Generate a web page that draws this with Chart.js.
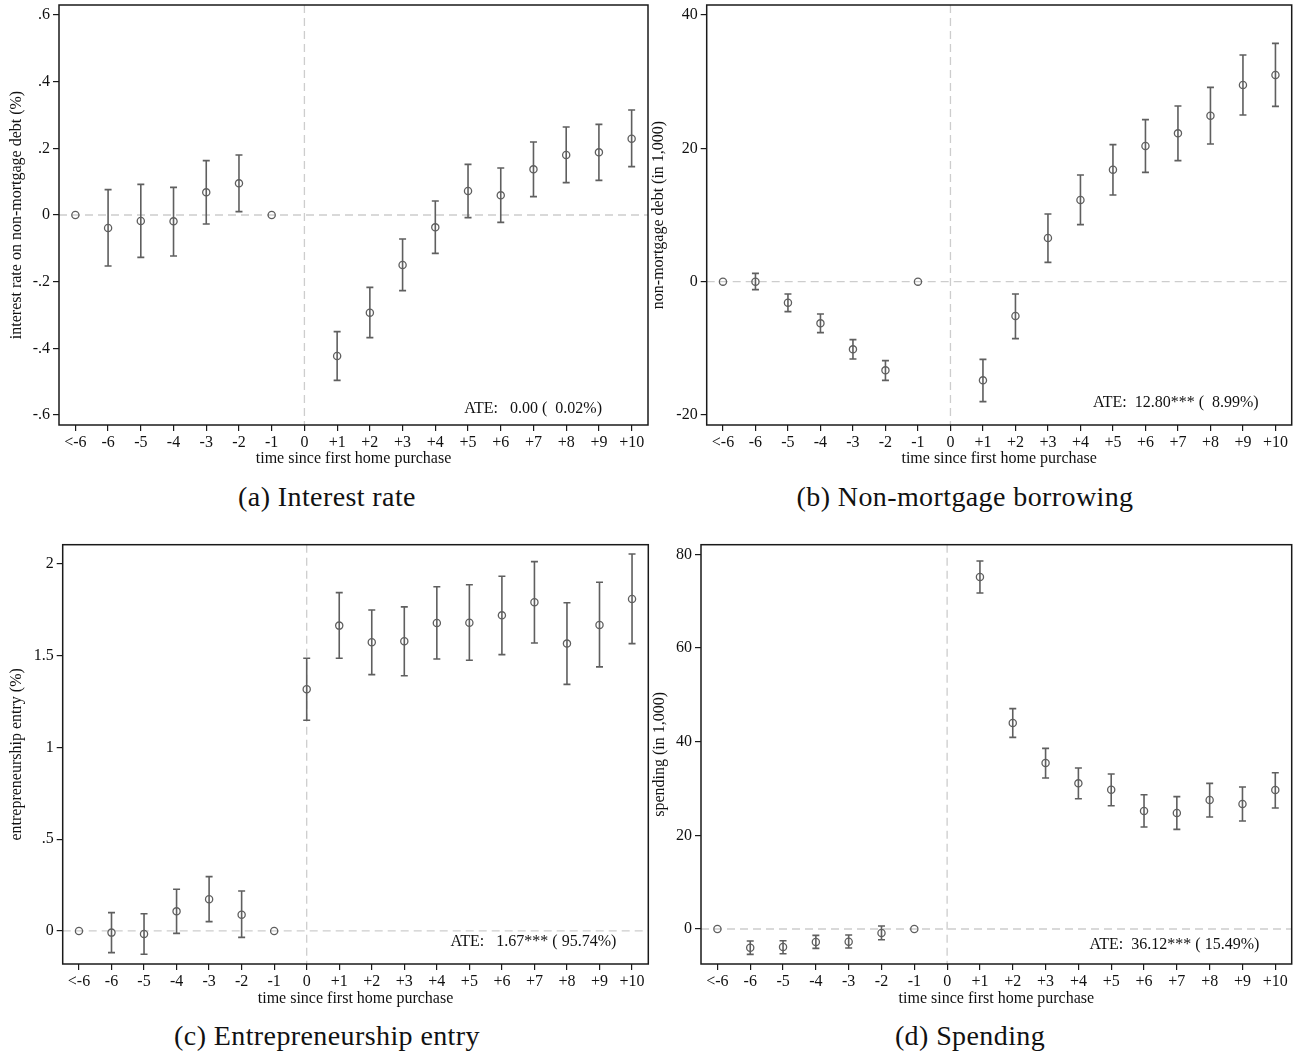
<!DOCTYPE html>
<html>
<head>
<meta charset="utf-8">
<script src="https://cdn.jsdelivr.net/npm/chart.js@4.4.1/dist/chart.umd.min.js"></script>
<style>
  body { margin: 0; background: #fff; }
  #wrap { position: relative; width: 1305px; height: 1055px; background: #fff; }
  canvas { position: absolute; }
  .cap {
    position: absolute; transform: translate(-50%, -50%); white-space: nowrap;
    font-family: "Liberation Serif", serif; font-size: 28px; letter-spacing: 0.4px; color: #111;
  }
</style>
</head>
<body>
<div id="wrap">
  <canvas id="cA" width="652" height="470" style="left:0;top:0"></canvas>
  <canvas id="cB" width="660" height="470" style="left:645px;top:0"></canvas>
  <canvas id="cC" width="652" height="480" style="left:0;top:530px"></canvas>
  <canvas id="cD" width="660" height="480" style="left:645px;top:530px"></canvas>
  <div class="cap" style="left:327px;top:497px">(a) Interest rate</div>
  <div class="cap" style="left:965px;top:497px">(b) Non-mortgage borrowing</div>
  <div class="cap" style="left:327px;top:1036px">(c) Entrepreneurship entry</div>
  <div class="cap" style="left:970px;top:1036px">(d) Spending</div>
</div>
<script>
// ===== DATA =====
const periodX = [-7, -6, -5, -4, -3, -2, -1, 0, 1, 2, 3, 4, 5, 6, 7, 8, 9, 10];
const periodLabels = ['<-6', '-6', '-5', '-4', '-3', '-2', '-1', '0', '+1', '+2', '+3', '+4', '+5', '+6', '+7', '+8', '+9', '+10'];

// (a) interest rate on non-mortgage debt (%)
const rateEst = [0, -0.039, -0.018, -0.019, 0.068, 0.095, 0, null, -0.423, -0.293, -0.150, -0.037, 0.072, 0.059, 0.137, 0.180, 0.188, 0.229];
const rateLo  = [null, -0.153, -0.127, -0.123, -0.027, 0.010, null, null, -0.496, -0.368, -0.227, -0.115, -0.008, -0.022, 0.055, 0.097, 0.104, 0.145];
const rateHi  = [null, 0.076, 0.092, 0.083, 0.163, 0.180, null, null, -0.350, -0.217, -0.072, 0.042, 0.152, 0.141, 0.219, 0.264, 0.272, 0.315];
const rateTicks = [-0.6, -0.4, -0.2, 0, 0.2, 0.4, 0.6];
const rateTickLabels = ['-.6', '-.4', '-.2', '0', '.2', '.4', '.6'];

// (b) non-mortgage debt (in 1,000)
const debtEst = [0, 0, -3.15, -6.25, -10.15, -13.3, 0, null, -14.8, -5.15, 6.55, 12.25, 16.8, 20.35, 22.25, 24.9, 29.5, 31.0];
const debtLo  = [null, -1.2, -4.5, -7.65, -11.6, -14.8, null, null, -18.0, -8.55, 2.9, 8.55, 13.0, 16.4, 18.15, 20.65, 25.0, 26.3];
const debtHi  = [null, 1.25, -1.85, -4.85, -8.7, -11.85, null, null, -11.65, -1.85, 10.15, 16.0, 20.55, 24.3, 26.35, 29.15, 34.0, 35.75];
const debtTicks = [-20, 0, 20, 40];
const debtTickLabels = ['-20', '0', '20', '40'];

// (c) entrepreneurship entry (%)
const entryEst = [0, -0.009, -0.016, 0.107, 0.173, 0.089, 0, 1.317, 1.664, 1.573, 1.579, 1.678, 1.680, 1.720, 1.791, 1.566, 1.668, 1.809];
const entryLo  = [null, -0.118, -0.127, -0.013, 0.051, -0.035, null, 1.148, 1.486, 1.397, 1.391, 1.482, 1.475, 1.506, 1.569, 1.344, 1.439, 1.566];
const entryHi  = [null, 0.100, 0.094, 0.227, 0.296, 0.218, null, 1.486, 1.844, 1.749, 1.766, 1.876, 1.887, 1.933, 2.013, 1.789, 1.900, 2.054];
const entryTicks = [0, 0.5, 1, 1.5, 2];
const entryTickLabels = ['0', '.5', '1', '1.5', '2'];

// (d) spending (in 1,000)
const spendEst = [0, -3.99, -3.84, -2.78, -2.70, -0.85, 0, null, 75.16, 43.99, 35.44, 31.10, 29.75, 25.20, 24.77, 27.54, 26.69, 29.68];
const spendLo  = [null, -5.41, -5.27, -4.13, -4.06, -2.28, null, null, 71.74, 40.93, 32.24, 27.83, 26.33, 21.78, 21.28, 23.91, 23.06, 25.84];
const spendHi  = [null, -2.56, -2.49, -1.35, -1.28, 0.64, null, null, 78.58, 47.05, 38.58, 34.38, 33.10, 28.68, 28.26, 31.10, 30.32, 33.38];
const spendTicks = [0, 20, 40, 60, 80];
const spendTickLabels = ['0', '20', '40', '60', '80'];

// ===== STYLE =====
const INK = '#111';
const MARK = '#5f5f5f';
const REF = '#cdcdcd';
Chart.defaults.font.family = '"Liberation Serif", "Times New Roman", serif';
Chart.defaults.font.size = 16;
Chart.defaults.color = INK;

// error bars, zero lines, frame and ATE note
const extras = {
  id: 'extras',
  beforeDatasetsDraw(chart, args, opts) {
    const {ctx, chartArea: a, scales: {x, y}} = chart;
    ctx.save();
    ctx.strokeStyle = REF;
    ctx.lineWidth = 1.3;
    ctx.setLineDash([8, 5]);
    const y0 = y.getPixelForValue(0);
    ctx.beginPath(); ctx.moveTo(a.left, y0); ctx.lineTo(a.right, y0); ctx.stroke();
    const x0 = x.getPixelForValue(0);
    ctx.beginPath(); ctx.moveTo(x0, a.top); ctx.lineTo(x0, a.bottom); ctx.stroke();
    ctx.setLineDash([]);

    ctx.strokeStyle = MARK;
    ctx.lineWidth = 1.6;
    opts.lo.forEach((lo, i) => {
      const hi = opts.hi[i];
      if (lo === null || hi === null) return;
      const px = x.getPixelForValue(periodX[i]);
      const pl = y.getPixelForValue(lo), ph = y.getPixelForValue(hi);
      ctx.beginPath();
      ctx.moveTo(px, pl); ctx.lineTo(px, ph);
      ctx.moveTo(px - 3.5, pl); ctx.lineTo(px + 3.5, pl);
      ctx.moveTo(px - 3.5, ph); ctx.lineTo(px + 3.5, ph);
      ctx.stroke();
    });
    ctx.restore();
  },
  afterDraw(chart, args, opts) {
    const {ctx, chartArea: a} = chart;
    ctx.save();
    ctx.strokeStyle = '#1a1a1a';
    ctx.lineWidth = 1.5;
    ctx.strokeRect(a.left, a.top, a.right - a.left, a.bottom - a.top);
    ctx.fillStyle = INK;
    ctx.font = '16px "Liberation Serif", serif';
    ctx.textAlign = 'right';
    ctx.textBaseline = 'middle';
    ctx.fillText(opts.ate, a.right - opts.ateRight, a.bottom - opts.ateUp);
    ctx.restore();
  }
};

function makePanel(id, est, lo, hi, yMin, yMax, yTicks, yTickLabels, yTitle, ate, box) {
  const canvas = document.getElementById(id);
  const W = canvas.width, H = canvas.height;
  const pts = periodX.map((v, i) => ({x: v, y: est[i]})).filter(p => p.y !== null);
  const tickGrid = {display: true, drawOnChartArea: false, drawTicks: true, tickLength: 6, color: '#1a1a1a', lineWidth: 1.2};
  const noPad = s => { s.paddingTop = 0; s.paddingBottom = 0; s.paddingLeft = 0; s.paddingRight = 0; };

  return new Chart(canvas, {
    type: 'scatter',
    data: {
      datasets: [{
        data: pts,
        pointRadius: 3.6,
        pointBorderWidth: 1.3,
        pointBorderColor: MARK,
        pointBackgroundColor: 'rgba(0,0,0,0)',
        showLine: false
      }]
    },
    plugins: [extras],
    options: {
      responsive: false,
      animation: false,
      devicePixelRatio: 1,
      layout: {autoPadding: false, padding: {top: box.top, right: W - box.right, left: 0, bottom: 0}},
      plugins: {
        legend: {display: false},
        tooltip: {enabled: false},
        extras: {lo, hi, ate, ateRight: box.ateRight, ateUp: box.ateUp}
      },
      scales: {
        x: {
          type: 'linear', min: -7.5, max: 10.5,
          afterBuildTicks: s => { s.ticks = periodX.map(v => ({value: v})); },
          afterFit: s => { s.height = H - box.bottom; noPad(s); },
          ticks: {padding: 2, autoSkip: false, maxRotation: 0, callback: v => periodLabels[periodX.indexOf(v)]},
          grid: tickGrid,
          border: {display: false},
          title: {display: true, text: 'time since first home purchase', padding: {top: 0, bottom: box.xTitlePad}}
        },
        y: {
          min: yMin, max: yMax,
          afterBuildTicks: s => { s.ticks = yTicks.map(v => ({value: v})); },
          afterFit: s => { s.width = box.left; noPad(s); },
          ticks: {padding: 3, callback: v => yTickLabels[yTicks.indexOf(v)]},
          grid: tickGrid,
          border: {display: false},
          title: {display: true, text: yTitle, padding: {top: box.yTitlePad, bottom: 0}}
        }
      }
    }
  });
}

makePanel('cA', rateEst, rateLo, rateHi, -0.63, 0.63, rateTicks, rateTickLabels,
  'interest rate on non-mortgage debt (%)', 'ATE:   0.00 (  0.02%)',
  {left: 59, top: 5, right: 648, bottom: 425, xTitlePad: 1.4, yTitlePad: 7.4, ateRight: 46, ateUp: 16});

makePanel('cB', debtEst, debtLo, debtHi, -21.5, 41.5, debtTicks, debtTickLabels,
  'non-mortgage debt (in 1,000)', 'ATE:  12.80*** (  8.99%)',
  {left: 61.7, top: 5, right: 646.7, bottom: 425, xTitlePad: 1.4, yTitlePad: 3.7, ateRight: 33, ateUp: 22});

makePanel('cC', entryEst, entryLo, entryHi, -0.18, 2.105, entryTicks, entryTickLabels,
  'entrepreneurship entry (%)', 'ATE:   1.67*** ( 95.74%)',
  {left: 62.7, top: 14.7, right: 648.3, bottom: 434, xTitlePad: 2.1, yTitlePad: 7.4, ateRight: 32, ateUp: 22});

makePanel('cD', spendEst, spendLo, spendHi, -7.47, 82.06, spendTicks, spendTickLabels,
  'spending (in 1,000)', 'ATE:  36.12*** ( 15.49%)',
  {left: 56, top: 14.7, right: 646.7, bottom: 434, xTitlePad: 2.1, yTitlePad: 5.4, ateRight: 32.4, ateUp: 19.7});
</script>
</body>
</html>
